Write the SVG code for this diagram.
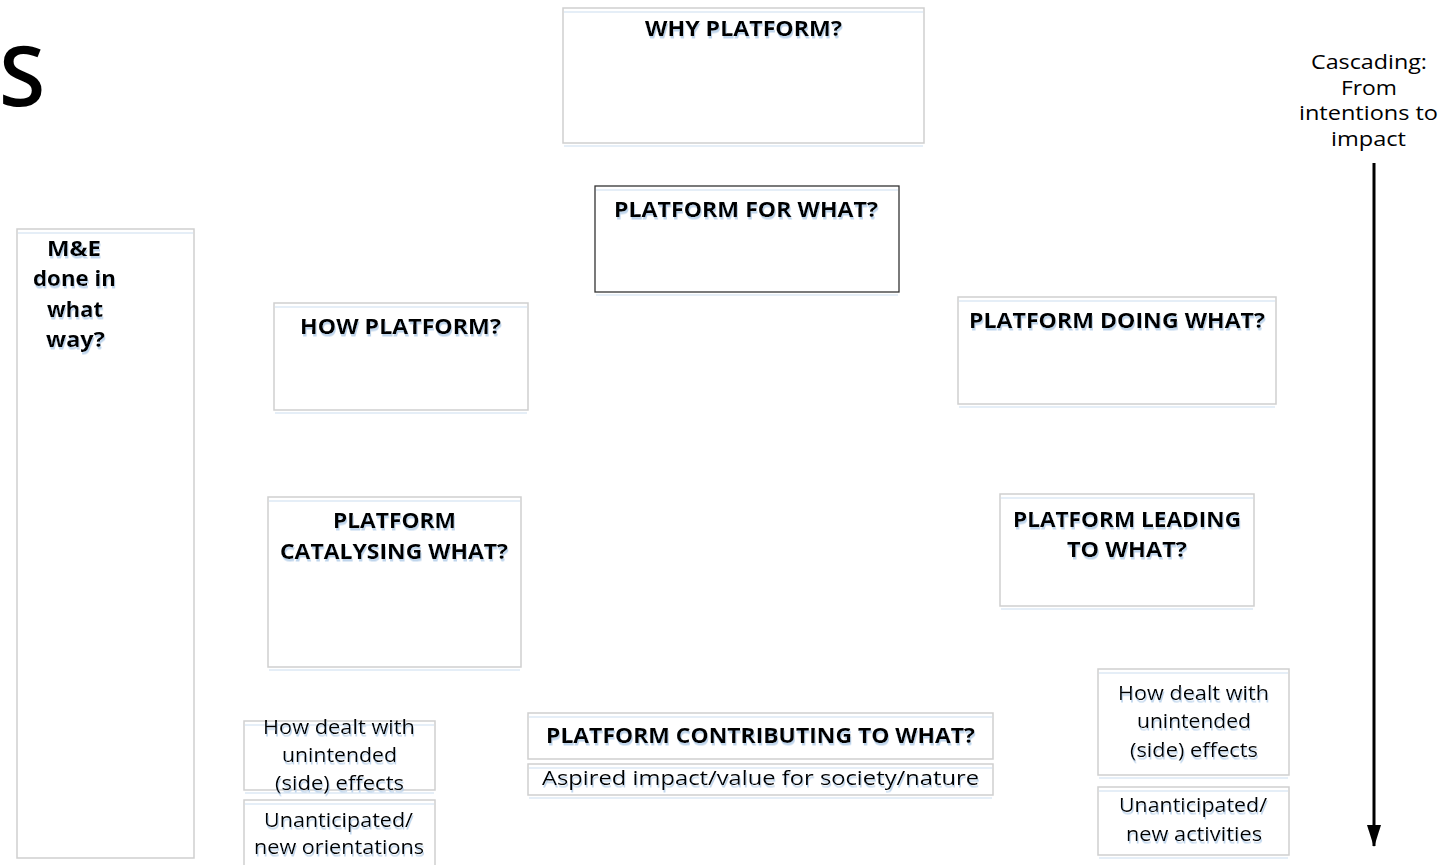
<svg xmlns="http://www.w3.org/2000/svg" width="1444" height="865" viewBox="0 0 1444 865">
<defs>
<style>
.box{fill:#fff;stroke:#cfcfcf;stroke-width:1.5}
.dark{fill:#fff;stroke:#333;stroke-width:1.3}
.hl{stroke:#dce8f5;stroke-width:1.5;fill:none}
.b{font-family:"Open Sans","Liberation Sans",sans-serif;font-weight:bold;font-size:21px;fill:#000;text-anchor:middle}
.r{font-family:"Open Sans","Liberation Sans",sans-serif;font-size:20px;fill:#000;text-anchor:middle}
.sh{filter:url(#ts)}
</style>
<filter id="ts" x="-5%" y="-20%" width="110%" height="160%">
<feDropShadow dx="1" dy="2.5" stdDeviation="0.6" flood-color="#b8d0ea" flood-opacity="0.9"/>
</filter>
<marker id="ah" viewBox="0 0 22 14" refX="21" refY="7" markerWidth="22" markerHeight="14" markerUnits="userSpaceOnUse" orient="auto">
<path d="M0,0 L22,7 L0,14 Z" fill="#000"/>
</marker>
</defs>

<text x="-1" y="106" font-family="Open Sans, Liberation Sans, sans-serif" font-weight="600" font-size="84" fill="#000">S</text>

<g id="why">
<rect class="box" x="563" y="8" width="361" height="135"/>
<line class="hl" x1="564" y1="12" x2="923" y2="12"/>
<line class="hl" x1="564" y1="146" x2="923" y2="146"/>
<text class="b sh" x="743.5" y="36" textLength="197" lengthAdjust="spacingAndGlyphs">WHY PLATFORM?</text>
</g>

<g id="for-what">
<rect class="dark" x="595" y="186" width="304" height="106"/>
<line class="hl" x1="596" y1="190" x2="898" y2="190"/>
<line class="hl" x1="596" y1="295" x2="898" y2="295"/>
<text class="b sh" x="746" y="217" textLength="264" lengthAdjust="spacingAndGlyphs">PLATFORM FOR WHAT?</text>
</g>

<g id="me">
<rect class="box" x="17" y="229" width="177" height="629"/>
<line class="hl" x1="18" y1="233" x2="193" y2="233"/>
<text class="b sh" x="74" y="256" textLength="54" lengthAdjust="spacingAndGlyphs">M&amp;E</text>
<text class="b sh" x="74.5" y="286" textLength="83" lengthAdjust="spacingAndGlyphs">done in</text>
<text class="b sh" x="75" y="317" textLength="56" lengthAdjust="spacingAndGlyphs">what</text>
<text class="b sh" x="75.5" y="347" textLength="59" lengthAdjust="spacingAndGlyphs">way?</text>
</g>

<g id="how">
<rect class="box" x="274" y="303" width="254" height="107"/>
<line class="hl" x1="275" y1="307" x2="527" y2="307"/>
<line class="hl" x1="275" y1="413" x2="527" y2="413"/>
<text class="b sh" x="400.5" y="334" textLength="201" lengthAdjust="spacingAndGlyphs">HOW PLATFORM?</text>
</g>

<g id="doing">
<rect class="box" x="958" y="297" width="318" height="107"/>
<line class="hl" x1="959" y1="301" x2="1275" y2="301"/>
<line class="hl" x1="959" y1="407" x2="1275" y2="407"/>
<text class="b sh" x="1117" y="328" textLength="296" lengthAdjust="spacingAndGlyphs">PLATFORM DOING WHAT?</text>
</g>

<g id="catalysing">
<rect class="box" x="268" y="497" width="253" height="170"/>
<line class="hl" x1="269" y1="501" x2="520" y2="501"/>
<line class="hl" x1="269" y1="670" x2="520" y2="670"/>
<text class="b sh" x="394.5" y="528" textLength="123" lengthAdjust="spacingAndGlyphs">PLATFORM</text>
<text class="b sh" x="394" y="559" textLength="228" lengthAdjust="spacingAndGlyphs">CATALYSING WHAT?</text>
</g>

<g id="leading">
<rect class="box" x="1000" y="494" width="254" height="112"/>
<line class="hl" x1="1001" y1="498" x2="1253" y2="498"/>
<line class="hl" x1="1001" y1="609" x2="1253" y2="609"/>
<text class="b sh" x="1127" y="527" textLength="228" lengthAdjust="spacingAndGlyphs">PLATFORM LEADING</text>
<text class="b sh" x="1127" y="557" textLength="120" lengthAdjust="spacingAndGlyphs">TO WHAT?</text>
</g>

<g id="contributing">
<rect class="box" x="528" y="713" width="465" height="46"/>
<line class="hl" x1="529" y1="717" x2="992" y2="717"/>
<text class="b sh" x="760.5" y="743" textLength="429" lengthAdjust="spacingAndGlyphs">PLATFORM CONTRIBUTING TO WHAT?</text>
</g>

<g id="aspired">
<rect class="box" x="528" y="764" width="465" height="31"/>
<line class="hl" x1="529" y1="768" x2="992" y2="768"/>
<line class="hl" x1="529" y1="798" x2="992" y2="798"/>
<text class="r sh" x="760.5" y="785" textLength="437" lengthAdjust="spacingAndGlyphs">Aspired impact/value for society/nature</text>
</g>

<g id="left-side-effects">
<rect class="box" x="244" y="721" width="191" height="69"/>
<line class="hl" x1="245" y1="725" x2="434" y2="725"/>
<line class="hl" x1="245" y1="793" x2="434" y2="793"/>
<text class="r sh" x="339" y="734" textLength="152" lengthAdjust="spacingAndGlyphs">How dealt with</text>
<text class="r sh" x="339.5" y="762" textLength="115" lengthAdjust="spacingAndGlyphs">unintended</text>
<text class="r sh" x="339.5" y="790" textLength="129" lengthAdjust="spacingAndGlyphs">(side) effects</text>
</g>

<g id="left-unanticipated">
<rect class="box" x="244" y="800" width="191" height="70"/>
<line class="hl" x1="245" y1="804" x2="434" y2="804"/>
<text class="r sh" x="338.5" y="827" textLength="149" lengthAdjust="spacingAndGlyphs">Unanticipated/</text>
<text class="r sh" x="339" y="854" textLength="170" lengthAdjust="spacingAndGlyphs">new orientations</text>
</g>

<g id="right-side-effects">
<rect class="box" x="1098" y="669" width="191" height="106"/>
<line class="hl" x1="1099" y1="673" x2="1288" y2="673"/>
<line class="hl" x1="1099" y1="778" x2="1288" y2="778"/>
<text class="r sh" x="1193.5" y="700" textLength="151" lengthAdjust="spacingAndGlyphs">How dealt with</text>
<text class="r sh" x="1194" y="728" textLength="114" lengthAdjust="spacingAndGlyphs">unintended</text>
<text class="r sh" x="1194" y="757" textLength="128" lengthAdjust="spacingAndGlyphs">(side) effects</text>
</g>

<g id="right-unanticipated">
<rect class="box" x="1098" y="787" width="191" height="68"/>
<line class="hl" x1="1099" y1="791" x2="1288" y2="791"/>
<line class="hl" x1="1099" y1="858" x2="1288" y2="858"/>
<text class="r sh" x="1193" y="812" textLength="148" lengthAdjust="spacingAndGlyphs">Unanticipated/</text>
<text class="r sh" x="1194" y="841" textLength="136" lengthAdjust="spacingAndGlyphs">new activities</text>
</g>

<g id="cascading">
<text class="r" x="1369" y="69" textLength="116" lengthAdjust="spacingAndGlyphs">Cascading:</text>
<text class="r" x="1369" y="95" textLength="56" lengthAdjust="spacingAndGlyphs">From</text>
<text class="r" x="1368.5" y="120" textLength="139" lengthAdjust="spacingAndGlyphs">intentions to</text>
<text class="r" x="1368.5" y="146" textLength="75" lengthAdjust="spacingAndGlyphs">impact</text>
</g>

<g id="connectors">
<line x1="1374" y1="163" x2="1374" y2="846" stroke="#000" stroke-width="3" marker-end="url(#ah)"/>
</g>
</svg>
